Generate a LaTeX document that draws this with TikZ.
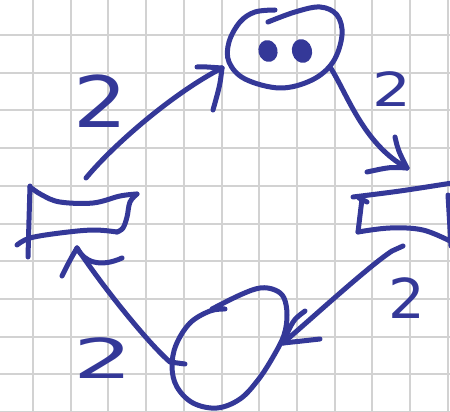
\documentclass[tikz,border=0pt]{standalone}
\usepackage{fontspec}
\newfontfamily\handfont{DejaVu Sans}
\definecolor{pen}{RGB}{52,56,152}
\definecolor{gridgray}{RGB}{210,210,210}
\begin{document}
\begin{tikzpicture}[x=1pt,y=-1pt,
  ink/.style={draw=pen,line width=5pt,line cap=round,line join=round},
  conn/.style={ink},
  lbl/.style={text=pen,inner sep=0pt,font=\handfont}]
\useasboundingbox (0,0) rectangle (450,412);
\fill[white] (0,0) rectangle (450,412);
% grid paper
\foreach \i in {0,...,11} {
  \draw[gridgray,line width=2pt] (33+37.7*\i,0) -- (33+37.7*\i,412);
}
\foreach \j in {0,...,10} {
  \draw[gridgray,line width=2pt] (0,35+37.7*\j) -- (450,35+37.7*\j);
}
% top blob (face)
\draw[ink] plot[smooth,tension=0.6] coordinates {(275,10) (255,12) (240,22) (229,42) (229,62) (245,79) (280,88) (312,80) (333,62) (342,35) (337,15) (320,7) (295,12) (268,22)};
\fill[pen,rotate around={15:(268,51)}] (268,51) ellipse [x radius=9.5pt,y radius=11pt];
\fill[pen,rotate around={15:(302,51)}] (302,51) ellipse [x radius=10pt,y radius=12pt];
% left box
\draw[ink] plot[smooth,tension=0.6] coordinates {(30,187) (42,195) (60,202) (93,203) (120,196) (137,194)};
\draw[ink] plot[smooth,tension=0.6] coordinates {(137,194) (130,202) (127,217) (123,228) (117,232)};
\draw[ink] plot[smooth,tension=0.6] coordinates {(117,232) (93,230) (60,233) (30,238) (17,245)};
\draw[ink] (30,186) -- (29,220) -- (28,257);
% right box
\draw[ink] plot[smooth,tension=0.6] coordinates {(353,197) (400,191) (452,183)};
\draw[ink] (359,198) -- (367,202);
\draw[ink] (362,199) -- (358,232);
\draw[ink] plot[smooth,tension=0.6] coordinates {(358,232) (390,228) (423,230) (452,242)};
\draw[ink] (448,195) -- (451,246);
% bottom blob
\draw[ink] plot[smooth,tension=0.6] coordinates {(225,309) (210,311) (190,323) (176,345) (172,367) (177,387) (193,403) (217,408) (240,399) (258,380) (273,357) (284,335) (287,315) (284,298) (275,290) (260,288) (240,295) (212,309)};
% connector endpoints
\coordinate (lbox-out) at (86,178);
\coordinate (tblob-in) at (222,68);
\coordinate (tblob-out) at (330,67);
\coordinate (rbox-in) at (407,168);
\coordinate (rbox-out) at (403,246);
\coordinate (bblob-in) at (283,343);
\coordinate (bblob-out) at (185,364);
\coordinate (lbox-in) at (77,248);
% arrow 1: left box -> top blob
\draw[conn] (lbox-out) .. controls (115,143) and (175,92) .. (tblob-in);
\draw[conn] (tblob-in) -- (207,67) -- (197,67);
\draw[conn] (tblob-in) .. controls (220,85) .. (213,110);
% arrow 2: top blob -> right box
\draw[conn] (tblob-out) .. controls (347,93) and (363,144) .. (rbox-in);
\draw[conn] (rbox-in) .. controls (398,150) .. (395,137);
\draw[conn] (rbox-in) .. controls (390,167) .. (367,172);
% arrow 3: right box -> bottom blob
\draw[conn] (rbox-out) -- (392,251) .. controls (370,265) and (310,320) .. (bblob-in);
\draw[conn] (bblob-in) .. controls (293,320) .. (305,311);
\draw[conn] (bblob-in) -- (302,341) -- (320,339);
% arrow 4: bottom blob -> left box
\draw[conn] (bblob-out) -- (170,362) .. controls (150,345) and (105,290) .. (lbox-in);
\draw[conn] (lbox-in) .. controls (70,260) .. (62,276);
\draw[conn] (lbox-in) .. controls (84,262) and (100,268) .. (122,258);
% labels
\node[lbl,font=\handfont\fontsize{71}{71}\selectfont,xscale=1.2] (l1) at (101,101) {2};
\node[lbl,font=\handfont\fontsize{47}{47}\selectfont,xscale=1.3] (l2) at (392,89) {2};
\node[lbl,font=\handfont\fontsize{55}{55}\selectfont,xscale=1.05] (l3) at (407,298) {2};
\node[lbl,font=\handfont\fontsize{55}{55}\selectfont,xscale=1.7] (l4) at (103,358) {2};
\end{tikzpicture}
\end{document}
